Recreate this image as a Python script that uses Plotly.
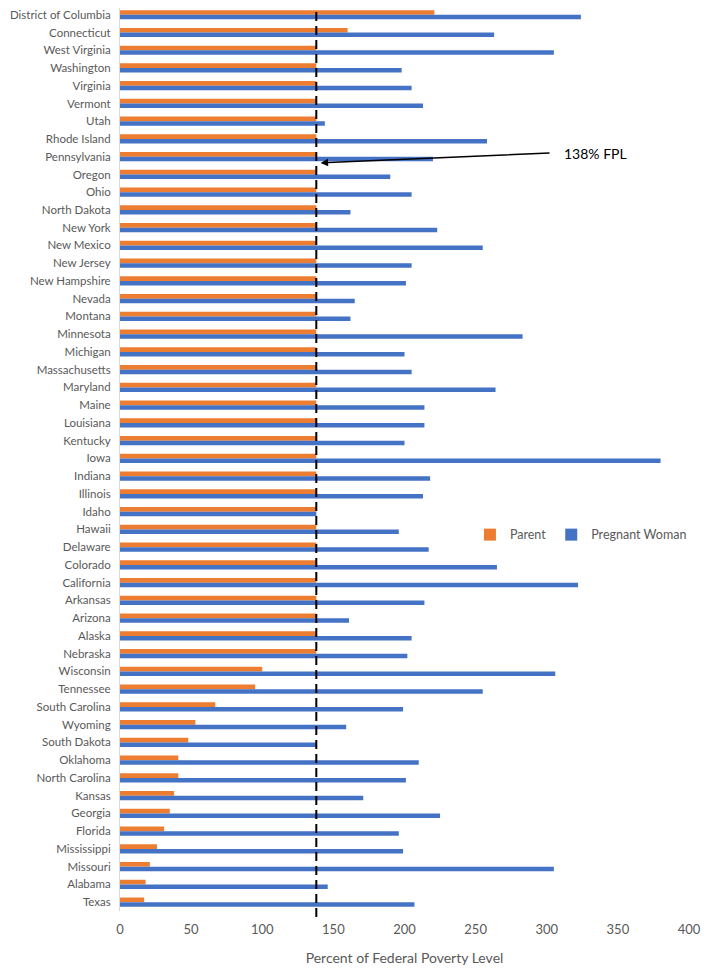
import plotly.graph_objects as go

states = ["District of Columbia", "Connecticut", "West Virginia", "Washington", "Virginia",
          "Vermont", "Utah", "Rhode Island", "Pennsylvania", "Oregon", "Ohio", "North Dakota",
          "New York", "New Mexico", "New Jersey", "New Hampshire", "Nevada", "Montana",
          "Minnesota", "Michigan", "Massachusetts", "Maryland", "Maine", "Louisiana",
          "Kentucky", "Iowa", "Indiana", "Illinois", "Idaho", "Hawaii", "Delaware",
          "Colorado", "California", "Arkansas", "Arizona", "Alaska", "Nebraska", "Wisconsin",
          "Tennessee", "South Carolina", "Wyoming", "South Dakota", "Oklahoma",
          "North Carolina", "Kansas", "Georgia", "Florida", "Mississippi", "Missouri",
          "Alabama", "Texas"]

parent = [221, 160, 138, 138, 138, 138, 138, 138, 138, 138, 138, 138,
          138, 138, 138, 138, 138, 138, 138, 138, 138, 138, 138, 138,
          138, 138, 138, 138, 138, 138, 138, 138, 138, 138, 138, 138, 138,
          100, 95, 67, 53, 48, 41, 41, 38, 35, 31, 26, 21, 18, 17]

pregnant = [324, 263, 305, 198, 205, 213, 144, 258, 220, 190, 205, 162,
            223, 255, 205, 201, 165, 162, 283, 200, 205, 264, 214, 214,
            200, 380, 218, 213, 138, 196, 217, 265, 322, 214, 161, 205, 202,
            306, 255, 199, 159, 138, 210, 201, 171, 225, 196, 199, 305, 146, 207]

x_ticks = [0, 50, 100, 150, 200, 250, 300, 350, 400]
fpl_line = 138

FONT = "Lato"
GRAY = "#595959"

fig = go.Figure()
fig.add_trace(go.Bar(y=states, x=parent, orientation="h", name="Parent",
                     marker=dict(color="#ED7D31", line=dict(width=0))))
fig.add_trace(go.Bar(y=states, x=pregnant, orientation="h", name="Pregnant Woman",
                     marker=dict(color="#4472C4", line=dict(width=0))))

fig.add_shape(type="line", xref="x", yref="paper", x0=fpl_line, x1=fpl_line,
              y0=-0.0066, y1=1.0, line=dict(color="black", width=2, dash="9px,5px"))

fig.add_annotation(x=141, y=8.35, xref="x", yref="y", ax=303, ay=7.79,
                   axref="x", ayref="y", text="", showarrow=True,
                   arrowhead=2, arrowsize=1, arrowwidth=1.5, arrowcolor="black")
fig.add_annotation(x=311, y=7.79, xref="x", yref="y", text="138% FPL",
                   showarrow=False, xanchor="left",
                   font=dict(family=FONT, size=14, color="black"))

fig.update_layout(
    width=693, height=962,
    margin=dict(l=112, r=12, t=0, b=59, autoexpand=False),
    paper_bgcolor="white", plot_bgcolor="white",
    barmode="group", bargap=0.48, bargroupgap=0,
    font=dict(family=FONT, size=13, color=GRAY),
    legend=dict(orientation="h", x=0.615, y=0.4164, xanchor="left", yanchor="middle",
                bgcolor="rgba(0,0,0,0)", font=dict(family=FONT, size=12.5, color=GRAY),
                itemwidth=30, traceorder="normal"),
    showlegend=True,
)
fig.update_xaxes(range=[0, 400], tickvals=x_ticks, showgrid=False, zeroline=False,
                 showline=False, ticks="", automargin=False, ticklabelstandoff=9,
                 tickfont=dict(size=13, color=GRAY),
                 title=dict(text="Percent of Federal Poverty Level",
                            font=dict(size=14, color=GRAY), standoff=17))
fig.update_yaxes(range=[50.5, -0.38], showgrid=False, zeroline=False, showline=True,
                 linecolor="#D9D9D9", linewidth=1, ticks="", automargin=False,
                 ticklabelstandoff=6,
                 tickfont=dict(size=11.5, color=GRAY), categoryorder="array",
                 categoryarray=states)

fig.write_html("out.html")
